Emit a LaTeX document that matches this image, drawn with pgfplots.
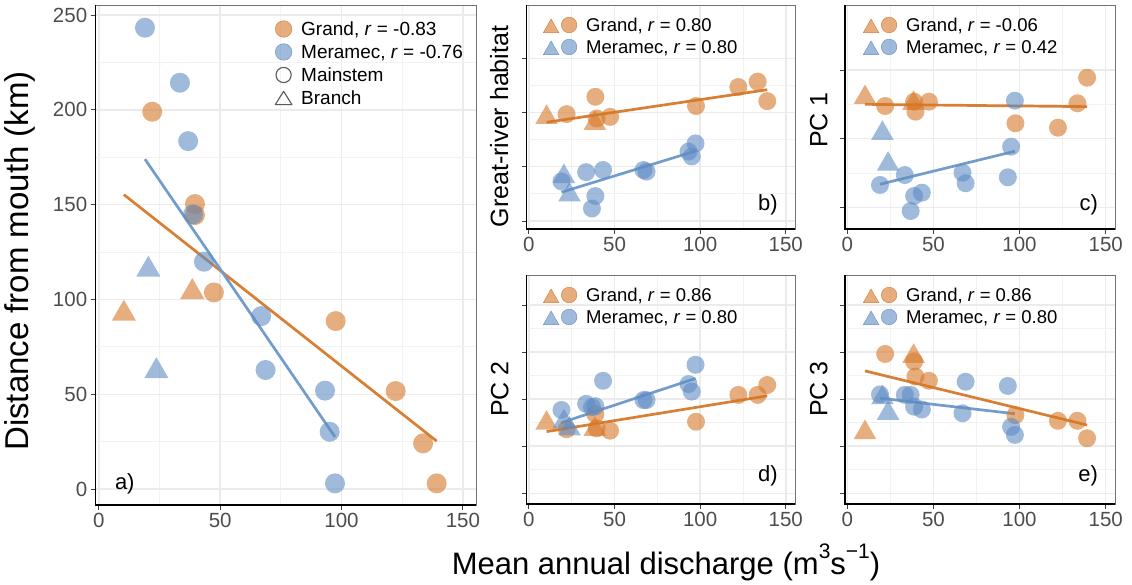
\documentclass[border=0pt]{standalone}
\usepackage{pgfplots}
\pgfplotsset{compat=1.18}
\usepackage{fontspec}
\setmainfont{Liberation Sans}
\definecolor{orgc}{RGB}{214,120,40}
\definecolor{bluc}{RGB}{95,140,195}
\definecolor{orgl}{RGB}{216,127,52}
\definecolor{blul}{RGB}{113,156,204}
\newcommand{\sups}[1]{\raisebox{16pt}{\fontsize{21}{21}\selectfont #1}}
\pgfplotsset{
 panel/.style={
  scale only axis, clip=false,
  xmin=-1.3, xmax=155.4, xtick={0,50,100,150},
  minor x tick num=1, minor y tick num=1,
  grid=both,
  major grid style={line width=1.5pt, black!8},
  minor grid style={line width=0.8pt, black!5},
  tick align=outside, major tick length=5pt, minor tick length=0pt,
  xtick pos=left, ytick pos=left,
  axis line style={line width=0.9pt, black!55},
  tick style={line width=0.9pt, black!75},
  tick label style={font=\fontsize{20.5}{20.5}\selectfont, text=black!70},
  /pgf/number format/assume math mode=true,
  legend cell align=left,
  legend style={draw=none, fill=none, inner sep=0pt, outer sep=0pt, row sep=2.6pt,
    font=\fontsize{19}{19}\selectfont,
    nodes={inner sep=0pt, text height=17pt, text depth=3.4pt},
    cells={anchor=west},
    /tikz/every odd column/.style={column sep=8.7pt}},
 },
 smallleg/.style={yticklabels={}, legend style={row sep=2pt, font=\fontsize{18.5}{18.5}\selectfont,
    nodes={inner sep=0pt, text height=16.6pt, text depth=3.4pt},
    /tikz/every odd column/.style={column sep=9.1pt}}},
 gcirc/.style={only marks, mark=*, mark size=#1, mark options={draw opacity=0, fill=orgc, fill opacity=0.6}, forget plot},
 gtri/.style={only marks, mark=triangle*, mark size=#1, mark options={draw opacity=0, fill=orgc, fill opacity=0.6}, forget plot},
 bcirc/.style={only marks, mark=*, mark size=#1, mark options={draw opacity=0, fill=bluc, fill opacity=0.6}, forget plot},
 btri/.style={only marks, mark=triangle*, mark size=#1, mark options={draw opacity=0, fill=bluc, fill opacity=0.6}, forget plot},
 gline/.style={orgl, line width=2.7pt, no marks, forget plot},
 bline/.style={blul, line width=2.7pt, no marks, forget plot},
 gleg/.style={legend image code/.code={
   \fill[orgc, fill opacity=0.6] (-7.7pt,-7.6pt) -- (7.7pt,-7.6pt) -- (0pt,6pt) -- cycle;
   \fill[orgc, fill opacity=0.6] (18pt,0pt) circle[radius=7.8pt];}},
 bleg/.style={legend image code/.code={
   \fill[bluc, fill opacity=0.6] (-7.7pt,-7.6pt) -- (7.7pt,-7.6pt) -- (0pt,6pt) -- cycle;
   \fill[bluc, fill opacity=0.6] (18pt,0pt) circle[radius=7.8pt];}},
}
\newcommand{\blackedge}{\draw[black, line width=1.4pt] (rel axis cs:0,1) -- (rel axis cs:0,0) -- (rel axis cs:1,0);}
\begin{document}
\begin{tikzpicture}
\useasboundingbox (0pt,0pt) rectangle (1132pt,585pt);
% ---------------- a ----------------
\begin{axis}[panel, at={(95.7pt,80pt)}, anchor=south west, width=380.3pt, height=500pt,
  ymin=-8.4, ymax=255.3, ytick={0,50,100,150,200,250},
  legend style={at={(axis description cs:0.4707,0.9724)}, anchor=north west}]
\addlegendimage{legend image code/.code={\fill[orgc, fill opacity=0.6] (0pt,0pt) circle[radius=8.3pt];}}
\addlegendentry{Grand, \textit{r} = -0.83}
\addlegendimage{legend image code/.code={\fill[bluc, fill opacity=0.6] (0pt,0pt) circle[radius=8.3pt];}}
\addlegendentry{Meramec, \textit{r} = -0.76}
\addlegendimage{legend image code/.code={\draw[black!65, line width=1.1pt] (0pt,0pt) circle[radius=7.6pt];}}
\addlegendentry{Mainstem}
\addlegendimage{legend image code/.code={\draw[black!65, line width=1.1pt, line join=round] (-8.35pt,-6.7pt) -- (8.35pt,-6.7pt) -- (0pt,6.7pt) -- cycle;}}
\addlegendentry{Branch}
\addplot[gcirc=10pt] coordinates {(22,199) (39.6,150.3) (39.6,144.5) (47.4,103.7) (97.6,88.6) (122.3,51.7) (133.6,24.1) (139.2,3)};
\addplot[gtri=14pt] coordinates {(10.3,92.5) (38.5,103.9)};
\addplot[bcirc=10pt] coordinates {(19,243.3) (33.4,214.3) (36.8,183.5) (38.8,144.9) (43.3,119.9) (66.9,91.2) (68.7,62.8) (93.2,51.9) (95.1,30.2) (97.3,3)};
\addplot[btri=14pt] coordinates {(20.4,115.7) (23.7,62.2)};
\addplot[gline] coordinates {(10.3,155.3) (139.2,25.3)};
\addplot[bline] coordinates {(19,174) (97.3,27.5)};
\blackedge
\node[anchor=base west, font=\fontsize{22}{22}\selectfont] at (axis cs:5.2,0) {a)};
\end{axis}
% ---------------- b ----------------
\begin{axis}[panel, smallleg, at={(526.7pt,356pt)}, anchor=south west, width=268.3pt, height=224pt,
  ymin=0.852, ymax=4.983, ytick={1,2,3,4},
  legend style={at={(axis description cs:0.0615,0.9554)}, anchor=north west}]
\addlegendimage{gleg}\addlegendentry{Grand, \textit{r} = 0.80}
\addlegendimage{bleg}\addlegendentry{Meramec, \textit{r} = 0.80}
\addplot[gcirc=9pt] coordinates {(22,2.97) (38.8,3.29) (39.6,2.89) (47.4,2.92) (97.6,3.12) (122.3,3.47) (133.6,3.57) (139.2,3.21)};
\addplot[gtri=13pt] coordinates {(10.3,2.91) (38.5,2.80)};
\addplot[bcirc=9pt] coordinates {(19,1.73) (33.4,1.90) (36.8,1.23) (38.8,1.46) (43.3,1.94) (66.9,1.94) (68.7,1.91) (93.2,2.28) (95.1,2.19) (97.3,2.43)};
\addplot[btri=13pt] coordinates {(20.4,1.82) (23.7,1.48)};
\addplot[gline] coordinates {(10.3,2.82) (139.2,3.42)};
\addplot[bline] coordinates {(19,1.53) (97.3,2.29)};
\blackedge
\node[anchor=base east, font=\fontsize{22}{22}\selectfont] at (axis cs:147.4,1.2) {b)};
\end{axis}
% ---------------- c ----------------
\begin{axis}[panel, smallleg, at={(845pt,356pt)}, anchor=south west, width=270pt, height=224pt,
  ymin=0.684, ymax=3.947, ytick={1,2,3},
  legend style={at={(axis description cs:0.0672,0.9554)}, anchor=north west}]
\addlegendimage{gleg}\addlegendentry{Grand, \textit{r} = -0.06}
\addlegendimage{bleg}\addlegendentry{Meramec, \textit{r} = 0.42}
\addplot[gcirc=9pt] coordinates {(22,2.476) (38.8,2.538) (39.6,2.393) (47.4,2.538) (97.6,2.224) (122.3,2.160) (133.6,2.515) (139.2,2.888)};
\addplot[gtri=13pt] coordinates {(10.3,2.60) (38.5,2.515)};
\addplot[bcirc=9pt] coordinates {(19,1.325) (33.4,1.47) (36.8,0.946) (38.8,1.165) (43.3,1.213) (66.9,1.504) (68.7,1.35) (93.2,1.437) (95.1,1.883) (97.3,2.553)};
\addplot[btri=13pt] coordinates {(20.4,2.078) (23.7,1.628)};
\addplot[gline] coordinates {(10.3,2.50) (139.2,2.466)};
\addplot[bline] coordinates {(19,1.336) (97.3,1.817)};
\blackedge
\node[anchor=base east, font=\fontsize{22}{22}\selectfont] at (axis cs:147.5,0.96) {c)};
\end{axis}
% ---------------- d ----------------
\begin{axis}[panel, smallleg, at={(526.7pt,81pt)}, anchor=south west, width=268.3pt, height=229pt,
  ymin=0.773, ymax=5.637, ytick={1,2,3,4,5},
  legend style={at={(axis description cs:0.0615,0.9563)}, anchor=north west}]
\addlegendimage{gleg}\addlegendentry{Grand, \textit{r} = 0.86}
\addlegendimage{bleg}\addlegendentry{Meramec, \textit{r} = 0.80}
\addplot[gcirc=9pt] coordinates {(22,2.36) (38.8,2.68) (39.6,2.38) (47.4,2.33) (97.6,2.52) (122.3,3.09) (133.6,3.09) (139.2,3.30)};
\addplot[gtri=13pt] coordinates {(10.3,2.49) (38.5,2.36)};
\addplot[bcirc=9pt] coordinates {(19,2.77) (33.4,2.90) (36.8,2.83) (38.8,2.85) (43.3,3.39) (66.9,2.98) (68.7,2.98) (93.2,3.32) (95.1,3.16) (97.3,3.73)};
\addplot[btri=13pt] coordinates {(20.4,2.52) (23.7,2.37)};
\addplot[gline] coordinates {(10.3,2.31) (139.2,3.07)};
\addplot[bline] coordinates {(19,2.50) (97.3,3.44)};
\blackedge
\node[anchor=base east, font=\fontsize{22}{22}\selectfont] at (axis cs:147.4,1.247) {d)};
\end{axis}
% ---------------- e ----------------
\begin{axis}[panel, smallleg, at={(845pt,81pt)}, anchor=south west, width=270pt, height=229pt,
  ymin=0.773, ymax=5.637, ytick={1,2,3,4,5},
  legend style={at={(axis description cs:0.0672,0.9563)}, anchor=north west}]
\addlegendimage{gleg}\addlegendentry{Grand, \textit{r} = 0.86}
\addlegendimage{bleg}\addlegendentry{Meramec, \textit{r} = 0.80}
\addplot[gcirc=9pt] coordinates {(22,3.96) (38.8,3.80) (39.6,3.48) (47.4,3.39) (97.6,2.66) (122.3,2.54) (133.6,2.54) (139.2,2.17)};
\addplot[gtri=13pt] coordinates {(10.3,2.29) (38.5,3.91)};
\addplot[bcirc=9pt] coordinates {(19,3.10) (33.4,3.09) (36.8,3.09) (38.8,2.84) (43.3,2.78) (66.9,2.70) (68.7,3.37) (93.2,3.28) (95.1,2.41) (97.3,2.24)};
\addplot[btri=13pt] coordinates {(20.4,3.03) (23.7,2.70)};
\addplot[gline] coordinates {(10.3,3.60) (139.2,2.45)};
\addplot[bline] coordinates {(19,3.02) (97.3,2.69)};
\blackedge
\node[anchor=base east, font=\fontsize{22}{22}\selectfont] at (axis cs:147.5,1.247) {e)};
\end{axis}
% ---------------- labels ----------------
\node[rotate=90, anchor=base, font=\fontsize{33}{33}\selectfont] at (28.3pt,324pt) {Distance from mouth (km)};
\node[rotate=90, anchor=base, font=\fontsize{25}{25}\selectfont] at (508pt,458.5pt) {Great-river habitat};
\node[rotate=90, anchor=base, font=\fontsize{25}{25}\selectfont] at (827.3pt,465pt) {PC 1};
\node[rotate=90, anchor=base, font=\fontsize{25}{25}\selectfont] at (508.3pt,196pt) {PC 2};
\node[rotate=90, anchor=base, font=\fontsize{25}{25}\selectfont] at (827.3pt,196pt) {PC 3};
\node[anchor=base, font=\fontsize{31}{31}\selectfont] at (666pt,10pt) {Mean annual discharge (m\sups{3}s\sups{−1})};
\end{tikzpicture}
\end{document}
